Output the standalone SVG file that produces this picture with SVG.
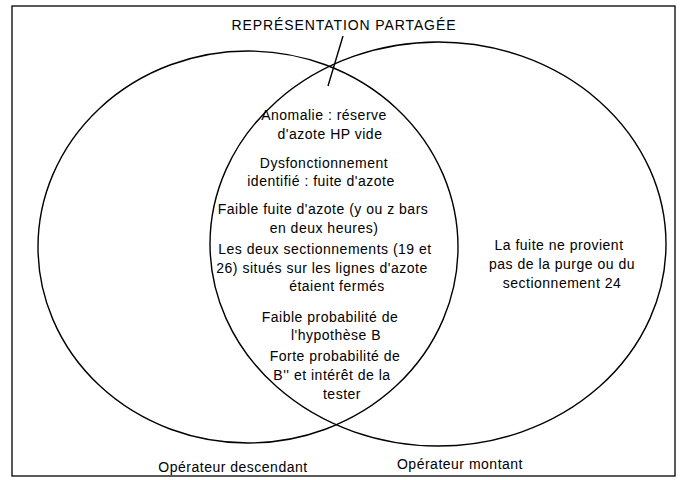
<svg xmlns="http://www.w3.org/2000/svg" width="683" height="480" viewBox="0 0 683 480">
<style>
text{font-family:"Liberation Sans",Arial,sans-serif;font-size:14px;letter-spacing:0.5px;fill:#000;text-anchor:middle}
.t{letter-spacing:0.9px}
.e{fill:none;stroke:#000;stroke-width:1.4}
</style>
<rect x="0" y="0" width="683" height="480" fill="#fff"/>
<rect x="12" y="6" width="663" height="470" fill="none" stroke="#000" stroke-width="1.3"/>
<g id="left-set">
<ellipse class="e" cx="248" cy="247" rx="210" ry="196"/>
<text x="233" y="472">Opérateur descendant</text>
</g>
<g id="right-set">
<ellipse class="e" cx="438" cy="244" rx="228" ry="202"/>
<text x="460" y="469">Opérateur montant</text>
<text x="559" y="250">La fuite ne provient</text>
<text x="562" y="269">pas de la purge ou du</text>
<text x="562" y="288">sectionnement 24</text>
</g>
<g id="shared">
<text x="324" y="120">Anomalie : réserve</text>
<text x="330" y="139">d'azote HP vide</text>
<text x="324" y="168">Dysfonctionnement</text>
<text x="321" y="186">identifié : fuite d'azote</text>
<text x="323" y="214">Faible fuite d'azote (y ou z bars</text>
<text x="324" y="233">en deux heures)</text>
<text x="325" y="254">Les deux sectionnements (19 et</text>
<text x="322" y="273">26) situés sur les lignes d'azote</text>
<text x="337" y="291">étaient fermés</text>
<text x="330" y="322">Faible probabilité de</text>
<text x="336" y="340">l'hypothèse B</text>
<text x="335" y="361">Forte probabilité de</text>
<text x="332" y="380">B'' et intérêt de la</text>
<text x="342" y="399">tester</text>
</g>
<g id="title">
<text class="t" x="344" y="30">REPRÉSENTATION PARTAGÉE</text>
</g>
<g id="connectors">
<line x1="343" y1="36" x2="328" y2="86" stroke="#000" stroke-width="1.4"/>
</g>
</svg>
